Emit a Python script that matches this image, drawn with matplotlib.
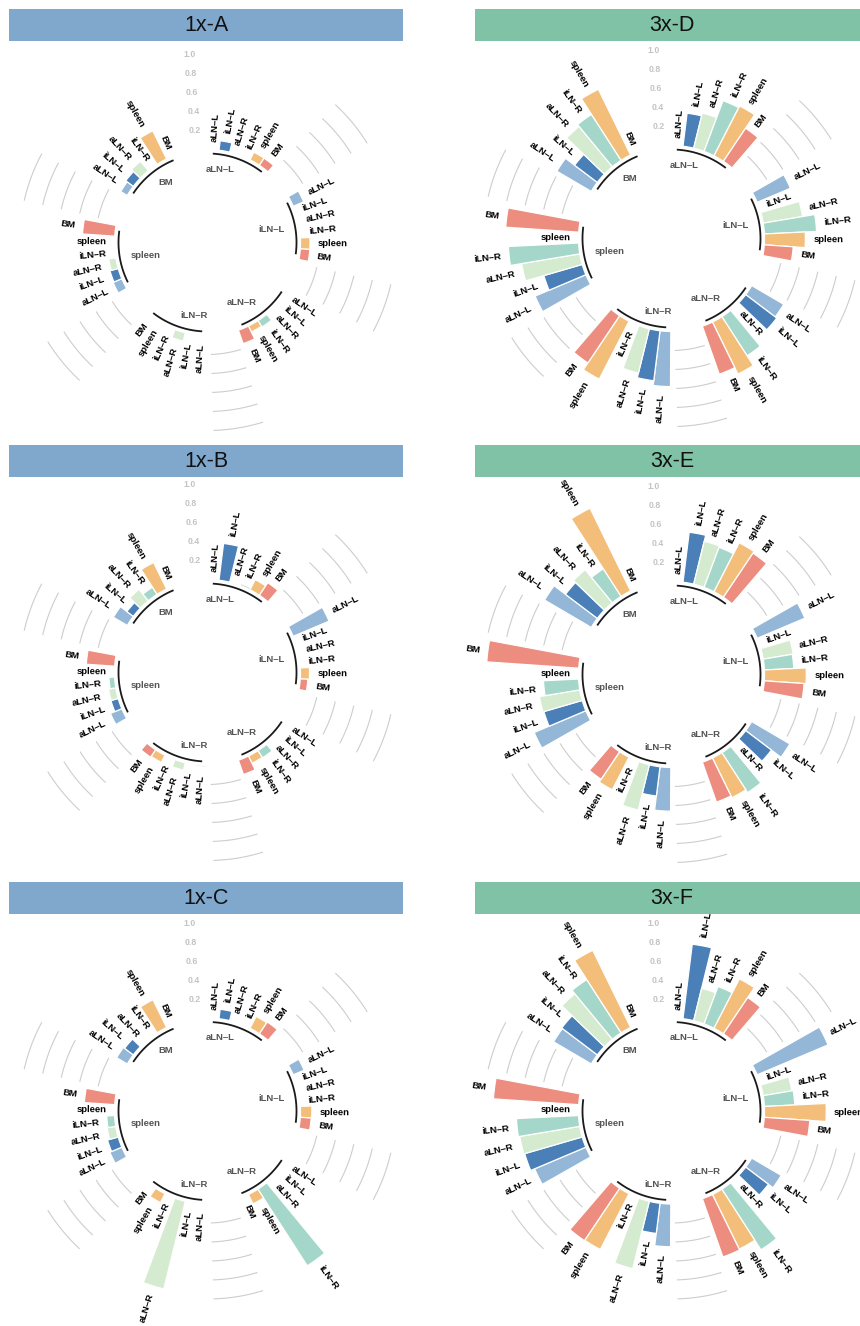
import numpy as np
import matplotlib.pyplot as plt
from matplotlib.patches import Rectangle

plt.rcParams['font.family'] = ['Liberation Sans', 'DejaVu Sans']

groups = ['aLN-L', 'iLN-L', 'aLN-R', 'iLN-R', 'spleen', 'BM']
colors = ['#94b6d7', '#4a7fb8', '#d5ebcf', '#a4d7c9', '#f3be7a', '#ec8d80']
ticks = [0.2, 0.4, 0.6, 0.8, 1.0]

# rows: sector (target), columns: bar (source), same order as groups
vals_1xA = [[0, 0.10, 0.01, 0.01, 0.09, 0.09],
            [0.12, 0, 0.005, 0.01, 0.10, 0.10],
            [0.01, 0.005, 0, 0.08, 0.07, 0.15],
            [0.01, 0.01, 0.09, 0, 0.01, 0.01],
            [0.10, 0.09, 0.075, 0.01, 0, 0.34],
            [0.08, 0.10, 0.13, 0.01, 0.33, 0]]
vals_1xB = [[0, 0.39, 0.01, 0.02, 0.12, 0.16],
            [0.41, 0, 0.005, 0.005, 0.095, 0.08],
            [0.01, 0.003, 0, 0.09, 0.085, 0.16],
            [0.015, 0.003, 0.08, 0, 0.085, 0.095],
            [0.13, 0.08, 0.077, 0.06, 0, 0.30],
            [0.17, 0.085, 0.155, 0.09, 0.31, 0]]
vals_1xC = [[0, 0.10, 0.01, 0.01, 0.14, 0.15],
            [0.125, 0, 0.003, 0.003, 0.12, 0.115],
            [0.01, 0.003, 0, 0.96, 0.11, 0.01],
            [0.005, 0.003, 0.95, 0, 0.105, 0.01],
            [0.137, 0.117, 0.093, 0.083, 0, 0.32],
            [0.13, 0.115, 0.01, 0.01, 0.325, 0]]
vals_3xD = [[0, 0.35, 0.38, 0.57, 0.59, 0.42],
            [0.38, 0, 0.42, 0.55, 0.43, 0.305],
            [0.39, 0.41, 0, 0.49, 0.61, 0.535],
            [0.58, 0.53, 0.48, 0, 0.685, 0.60],
            [0.58, 0.42, 0.62, 0.74, 0, 0.77],
            [0.42, 0.30, 0.55, 0.575, 0.77, 0]]
vals_3xE = [[0, 0.53, 0.465, 0.45, 0.58, 0.56],
            [0.545, 0, 0.32, 0.31, 0.44, 0.42],
            [0.465, 0.34, 0, 0.50, 0.465, 0.445],
            [0.46, 0.31, 0.49, 0, 0.385, 0.35],
            [0.59, 0.42, 0.43, 0.37, 0, 0.97],
            [0.57, 0.42, 0.45, 0.345, 0.97, 0]]
vals_3xF = [[0, 0.79, 0.35, 0.42, 0.585, 0.46],
            [0.81, 0, 0.305, 0.32, 0.65, 0.48],
            [0.36, 0.30, 0, 0.76, 0.64, 0.65],
            [0.45, 0.32, 0.73, 0, 0.66, 0.665],
            [0.585, 0.63, 0.64, 0.655, 0, 0.90],
            [0.46, 0.47, 0.62, 0.667, 0.905, 0]]

titles = ['1x-A', '1x-B', '1x-C', '3x-D', '3x-E', '3x-F']
title_colors = ['#80a7cc'] * 3 + ['#7fc2a5'] * 3
panel_vals = [vals_1xA, vals_1xB, vals_1xC, vals_3xD, vals_3xE, vals_3xF]

# layout in pixels: circle centre and title bar top for each panel
centers = [(207.5, 242.5), (207.5, 672.5), (207.5, 1111),
           (671.5, 238.5), (671.5, 674.5), (671.5, 1111)]
title_left = [9, 9, 9, 475, 475, 475]
title_top = [9, 445, 881.5, 9, 445, 881.5]

W, H = 860, 1326
R0, SCALE = 93, 95          # bar base radius and px per unit
ARC_R, LAB_R = 89, 78
SECT_W, BAR_W = 33, 6.7     # degrees
R_AX = 300

fig = plt.figure(figsize=(W / 100, H / 100), dpi=100)
bg = fig.add_axes([0, 0, 1, 1])
bg.set_xlim(0, W)
bg.set_ylim(H, 0)
bg.axis('off')

for title, col, x0, y0 in zip(titles, title_colors, title_left, title_top):
    bg.add_patch(Rectangle((x0, y0), 394, 32, facecolor=col, edgecolor='none'))
    bg.text(x0 + 197, y0 + 16.5, title, ha='center', va='center', fontsize=15.5, color='#111111')


def dash(s):
    return s.replace('-', '\u2013')


for vals, (cx, cy) in zip(panel_vals, centers):
    ax = fig.add_axes([(cx - R_AX) / W, 1 - (cy + R_AX) / H, 2 * R_AX / W, 2 * R_AX / H],
                      projection='polar')
    ax.set_theta_zero_location('N')
    ax.set_theta_direction(-1)
    ax.set_ylim(0, R_AX)
    ax.axis('off')

    for k, sector in enumerate(groups):
        c = 20.5 + 60 * k
        # black arc under each sector and its name inside the circle
        th = np.radians(np.linspace(c - SECT_W / 2, c + SECT_W / 2, 60))
        ax.plot(th, np.full(th.size, ARC_R), color='#1a1a1a', lw=1.3, clip_on=False)
        ha = 'right' if c < 180 else 'left'
        ax.text(np.radians(c), LAB_R, dash(sector), ha=ha, va='center', fontsize=6.8,
                fontweight='bold', color='#555555', clip_on=False)

        angles = c + (np.arange(6) - 2.5) * BAR_W
        v = np.array(vals[k])
        ax.bar(np.radians(angles), v * SCALE, width=np.radians(BAR_W), bottom=R0,
               color=colors, edgecolor='white', linewidth=0.9, clip_on=False)
        for a, val, g in zip(angles, v, groups):
            r = R0 + val * SCALE + 8
            if a < 180:
                rot, ha = 90 - a, 'left'
            else:
                rot, ha = 270 - a, 'right'
            ax.text(np.radians(a), r, dash(g), rotation=rot, rotation_mode='anchor',
                    ha=ha, va='center', fontsize=6.8, fontweight='bold', color='black',
                    clip_on=False)

        # grey reference arcs in the gaps after sectors 1..5
        if k < 5:
            gc = c + 30
            th = np.radians(np.linspace(gc - 7.5, gc + 7.5, 40))
            for t in ticks:
                ax.plot(th, np.full(th.size, R0 + t * SCALE), color='#cdcdcd', lw=0.8,
                        clip_on=False)

    for t in ticks:
        ax.text(np.radians(-3.5), R0 + t * SCALE, f'{t:.1f}', ha='right', va='center',
                fontsize=6.3, fontweight='bold', color='#c4c4c4', clip_on=False)

fig.savefig('out.png', dpi=100)
